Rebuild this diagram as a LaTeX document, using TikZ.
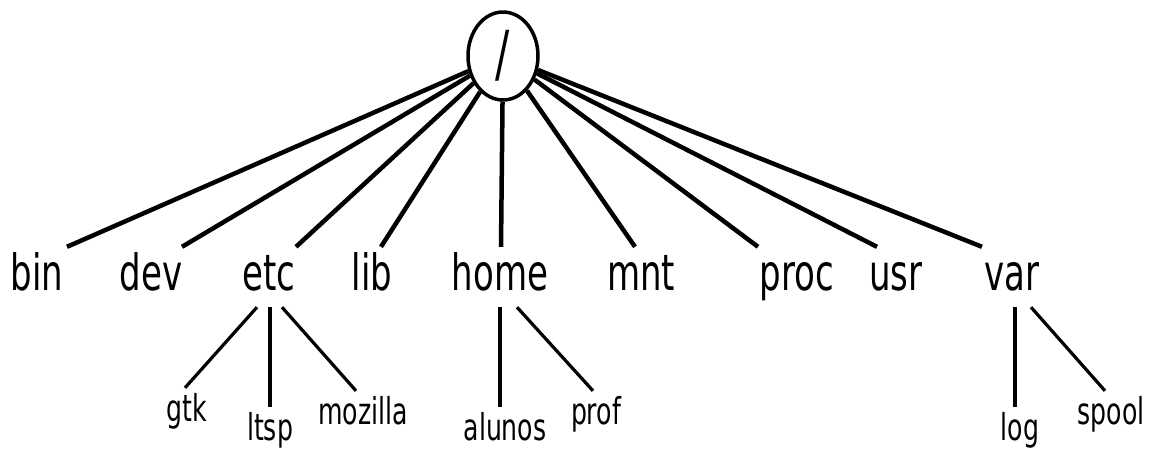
\documentclass[tikz,border=0pt]{standalone}
\usepackage{fontspec}
\setmainfont{DejaVu Sans}[FakeStretch=0.68]
\usetikzlibrary{shapes.geometric}
\begin{document}
\begin{tikzpicture}[x=1pt,y=-1pt,
  big/.style={font=\fontsize{50}{60}\selectfont, text height=38pt, text depth=12pt, inner xsep=0pt, inner ysep=5pt, anchor=base},
  small/.style={font=\fontsize{37}{44}\selectfont, text height=28pt, text depth=9pt, inner xsep=0pt, inner ysep=5pt, anchor=base},
  edgeone/.style={line width=4.5pt},
  edgetwo/.style={line width=3.2pt}]
\useasboundingbox (0,0) rectangle (1154,448);
\node[ellipse, draw, line width=3.5pt, minimum width=70pt, minimum height=88pt, inner sep=0pt, font=\fontsize{62}{70}\selectfont] (root) at (503,56) {/};
% level 1
\node[big] (bin)  at (37,290)   {bin};
\node[big] (dev)  at (151,290)  {dev};
\node[big] (etc)  at (269,290)  {etc};
\node[big] (lib)  at (372,290)  {lib};
\node[big] (home) at (500,290)  {home};
\node[big] (mnt)  at (641,290)  {mnt};
\node[big] (proc) at (797,290)  {proc};
\node[big] (usr)  at (896,290)  {usr};
\node[big] (var)  at (1012,290) {var};
% level 2
\node[small] (gtk)     at (187,421)  {gtk};
\node[small] (ltsp)    at (270,440)  {ltsp};
\node[small] (mozilla) at (363,424)  {mozilla};
\node[small] (alunos)  at (505,440)  {alunos};
\node[small] (prof)    at (596,424)  {prof};
\node[small] (log)     at (1020,440) {log};
\node[small] (spool)   at (1111,424) {spool};
% connectors root -> level 1
\draw[edgeone] (root) -- ([xshift=30pt]bin.north);
\draw[edgeone] (root) -- ([xshift=31pt]dev.north);
\draw[edgeone] (root) -- ([xshift=27pt]etc.north);
\draw[edgeone] (root) -- ([xshift=9pt]lib.north);
\draw[edgeone] (root) -- ([xshift=1pt]home.north);
\draw[edgeone] (root) -- ([xshift=-6pt]mnt.north);
\draw[edgeone] (root) -- ([xshift=-39pt]proc.north);
\draw[edgeone] (root) -- ([xshift=-19pt]usr.north);
\draw[edgeone] (root) -- ([xshift=-30pt]var.north);
% level 1 -> level 2
\draw[edgetwo] ([xshift=-12pt]etc.south) -- ([xshift=-2pt]gtk.north);
\draw[edgetwo] ([xshift=1pt]etc.south) -- (ltsp.north);
\draw[edgetwo] ([xshift=13pt]etc.south) -- ([xshift=-7pt]mozilla.north);
\draw[edgetwo] (home.south) -- ([xshift=-5pt]alunos.north);
\draw[edgetwo] ([xshift=17pt]home.south) -- ([xshift=-3pt]prof.north);
\draw[edgetwo] ([xshift=3pt]var.south) -- ([xshift=-5pt]log.north);
\draw[edgetwo] ([xshift=19pt]var.south) -- ([xshift=-6pt]spool.north);
\end{tikzpicture}
\end{document}
